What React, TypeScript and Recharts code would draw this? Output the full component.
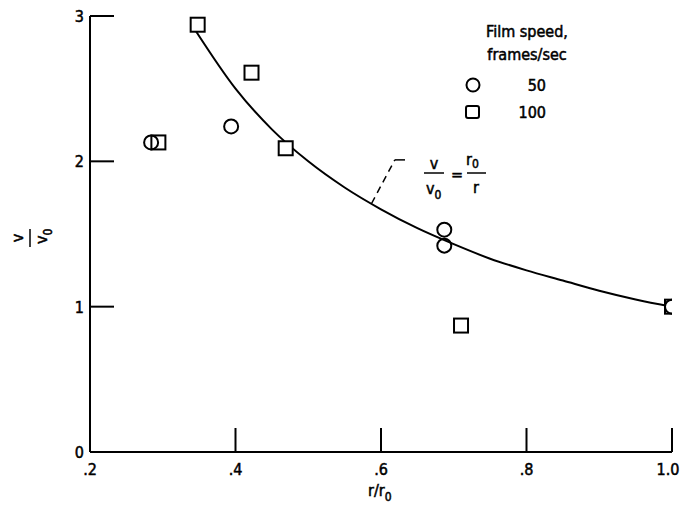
import React from 'react';
import { ComposedChart, XAxis, YAxis, Line, Scatter, ReferenceLine, Customized } from 'recharts';

const FONT = '"DejaVu Sans Condensed", "Liberation Sans Narrow", sans-serif';

// Film speed 50 frames/sec (circles)
const circleX = [0.284, 0.394, 0.687, 0.687, 1.0];
const circleY = [2.13, 2.24, 1.53, 1.42, 1.0];
// Film speed 100 frames/sec (squares)
const squareX = [0.294, 0.348, 0.422, 0.469, 0.71, 1.0];
const squareY = [2.13, 2.94, 2.61, 2.09, 0.87, 1.0];
// Curve v/v0 = r0/r
const curveX = [0.345, 0.4, 0.45, 0.5, 0.55, 0.6, 0.65, 0.7, 0.75, 0.8, 0.85, 0.9, 0.95, 1.0];
const curveY = [2.9, 2.5, 2.22, 2.0, 1.82, 1.67, 1.54, 1.43, 1.33, 1.25, 1.18, 1.11, 1.05, 1.0];

const xTicks = [0.2, 0.4, 0.6, 0.8, 1.0];
const xTickLabels = ['.2', '.4', '.6', '.8', '1.0'];
const yTicks = [0, 1, 2, 3];
const yTickLabels = ['0', '1', '2', '3'];

const circles = circleX.map((x, i) => ({ x, y: circleY[i] }));
const squares = squareX.map((x, i) => ({ x, y: squareY[i] }));
const curve = curveX.map((x, i) => ({ x, y: curveY[i] }));

const txt = { fontFamily: FONT, fontSize: 16, fill: '#000', stroke: '#000', strokeWidth: 0.5 } as const;

const CircleShape = (p: any) => (
  <circle cx={p.cx} cy={p.cy} r={7} fill="none" stroke="#000" strokeWidth={2} />
);
const SquareShape = (p: any) => (
  <rect x={p.cx - 7} y={p.cy - 7} width={14} height={14} fill="#fff" stroke="#000" strokeWidth={2} />
);

const YTick = (p: any) => {
  const { x, y, payload } = p;
  const idx = yTicks.indexOf(payload.value);
  return (
    <g>
      {payload.value !== 0 && <line x1={x} x2={x + 24} y1={y} y2={y} stroke="#000" strokeWidth={2} />}
      <text x={x - 6} y={y + 6} textAnchor="end" {...txt}>{yTickLabels[idx]}</text>
    </g>
  );
};

const XTick = (p: any) => {
  const { x, y, payload } = p;
  const idx = xTicks.indexOf(payload.value);
  return (
    <g>
      {payload.value !== 0.2 && <line x1={x} x2={x} y1={y} y2={y - 24} stroke="#000" strokeWidth={2} />}
      <text x={payload.value === 1.0 ? x - 4 : x} y={y + 23} textAnchor="middle" {...txt}>{xTickLabels[idx]}</text>
    </g>
  );
};

const Overlay = () => (
  <g>
    {/* Legend */}
    <text x={527} y={37} textAnchor="middle" {...txt}>Film speed,</text>
    <text x={527} y={60} textAnchor="middle" {...txt}>frames/sec</text>
    <circle cx={473} cy={85} r={6.5} fill="none" stroke="#000" strokeWidth={2} />
    <text x={546} y={91} textAnchor="end" {...txt}>50</text>
    <rect x={466} y={106} width={13} height={12} rx={2} fill="none" stroke="#000" strokeWidth={2} />
    <text x={546} y={118} textAnchor="end" {...txt}>100</text>
    {/* Equation */}
    <text x={434} y={169} textAnchor="middle" {...txt}>v</text>
    <line x1={424} x2={444} y1={173} y2={173} stroke="#000" strokeWidth={1.5} />
    <text x={426} y={194} {...txt}>v<tspan dy={5} fontSize={12}>0</tspan></text>
    <text x={457} y={180} textAnchor="middle" {...txt}>=</text>
    <text x={466} y={165} {...txt}>r<tspan dy={3} fontSize={12}>0</tspan></text>
    <line x1={467} x2={486} y1={173} y2={173} stroke="#000" strokeWidth={1.5} />
    <text x={476} y={193} textAnchor="middle" {...txt}>r</text>
    {/* Y axis label (rotated fraction) */}
    <g transform="translate(30,238) rotate(-90)">
      <text x={0} y={-7} textAnchor="middle" {...txt}>v</text>
      <line x1={-9} x2={9} y1={0} y2={0} stroke="#000" strokeWidth={1.5} />
      <text x={-6} y={17} {...txt}>v<tspan dy={5} fontSize={12}>0</tspan></text>
    </g>
    {/* X axis label */}
    <text x={368} y={496} {...txt}>r/r<tspan dy={5} fontSize={12}>0</tspan></text>
  </g>
);

export default function App() {
  return (
    <div style={{ position: 'absolute', left: 0, top: 0, width: 692, height: 514, background: '#fff' }}>
      <ComposedChart
        width={692}
        height={514}
        margin={{ top: 16, right: 20, bottom: 22, left: 30 }}
      >
        <XAxis
          dataKey="x"
          type="number"
          domain={[0.2, 1.0]}
          ticks={xTicks}
          allowDataOverflow
          axisLine={{ stroke: '#000', strokeWidth: 2 }}
          tickLine={false}
          tickSize={0}
          tickMargin={0}
          height={40}
          tick={<XTick />}
          interval={0}
        />
        <YAxis
          dataKey="y"
          type="number"
          domain={[0, 3]}
          ticks={yTicks}
          allowDataOverflow
          axisLine={{ stroke: '#000', strokeWidth: 2 }}
          tickLine={false}
          tickSize={0}
          tickMargin={0}
          width={60}
          tick={<YTick />}
          interval={0}
        />
        <Line
          data={curve}
          dataKey="y"
          type="monotone"
          stroke="#000"
          strokeWidth={2}
          dot={false}
          activeDot={false}
          isAnimationActive={false}
        />
        <ReferenceLine
          segment={[{ x: 0.587, y: 1.71 }, { x: 0.619, y: 2.01 }]}
          stroke="#000"
          strokeWidth={1.5}
          strokeDasharray="7 5"
        />
        <ReferenceLine
          segment={[{ x: 0.619, y: 2.01 }, { x: 0.633, y: 2.01 }]}
          stroke="#000"
          strokeWidth={1.5}
        />
        <Scatter data={squares} dataKey="y" shape={SquareShape} isAnimationActive={false} />
        <Scatter data={circles} dataKey="y" shape={CircleShape} isAnimationActive={false} />
        <Customized component={Overlay} />
      </ComposedChart>
    </div>
  );
}
